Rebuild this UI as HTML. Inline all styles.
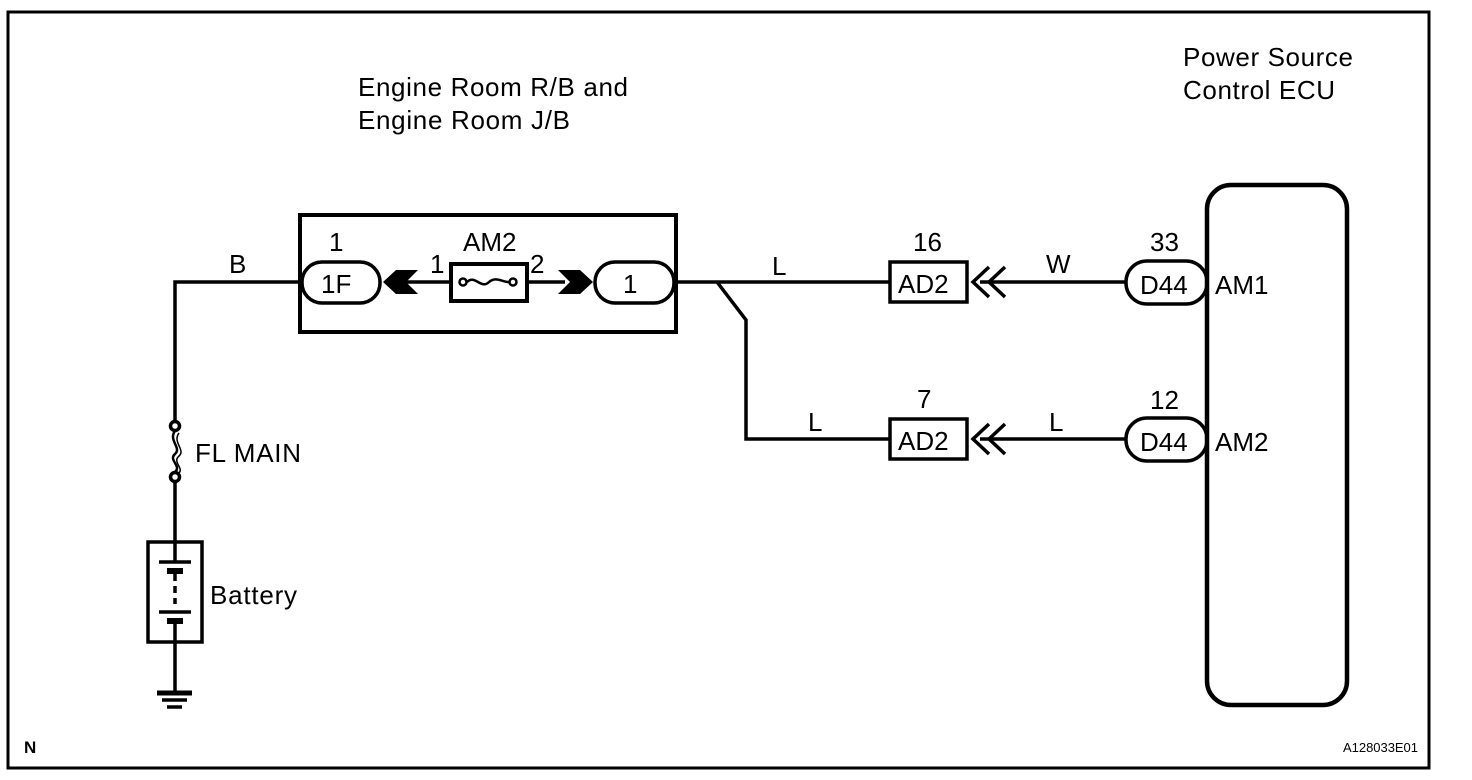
<!DOCTYPE html>
<html><head><style>
html,body{margin:0;padding:0;background:#fff;}
svg{display:block;}
text{font-family:"Liberation Sans",Arial,sans-serif;fill:#000;}
</style></head><body>
<svg width="1472" height="780" viewBox="0 0 1472 780" xmlns="http://www.w3.org/2000/svg">
<rect width="1472" height="780" fill="#fff"/>
<rect x="8" y="12" width="1421" height="756" fill="none" stroke="#000" stroke-width="3"/>
<g stroke="#000" fill="none" stroke-width="3.5">
<polyline points="302,282 175,282 175,425"/>
<circle cx="175" cy="426" r="4.5" fill="#fff"/>
<circle cx="175" cy="477" r="4.5" fill="#fff"/>
<path d="M175,431 C168,440 182,448 175,454 C168,460 182,466 175,472" stroke-width="2.5"/>
<path d="M179,433 C172,442 186,450 179,456 C172,462 184,468 179,473" stroke-width="1.5"/>
<line x1="175" y1="482" x2="175" y2="542"/>
<rect x="148" y="542" width="54" height="100"/>
<line x1="175" y1="542" x2="175" y2="562"/>
<line x1="159" y1="562" x2="191" y2="562"/>
<line x1="167" y1="571" x2="183" y2="571" stroke-width="6"/>
<line x1="175" y1="574" x2="175" y2="604" stroke-dasharray="7,5"/>
<line x1="159" y1="612" x2="191" y2="612"/>
<line x1="167" y1="621" x2="183" y2="621" stroke-width="6"/>
<line x1="175" y1="624" x2="175" y2="691"/>
<line x1="157" y1="693" x2="192" y2="693" stroke-width="5"/>
<line x1="162" y1="700" x2="187" y2="700"/>
<line x1="167" y1="707" x2="182" y2="707"/>
<rect x="300" y="215" width="376" height="117" stroke-width="4"/>
<rect x="302" y="262" width="78" height="41" rx="20"/>
<rect x="595" y="262" width="79" height="41" rx="20"/>
<line x1="395" y1="282" x2="452" y2="282"/>
<rect x="451" y="264" width="76" height="37" stroke-width="4"/>
<line x1="527" y1="282" x2="565" y2="282"/>
<circle cx="463" cy="282" r="3.5" fill="#fff" stroke-width="2.5"/>
<circle cx="513" cy="282" r="3.5" fill="#fff" stroke-width="2.5"/>
<path d="M467,282 C475,274 481,290 489,282 C496,276 502,282 509,282" stroke-width="2.5"/>
<line x1="674" y1="282" x2="890" y2="282"/>
<polyline points="717,282 746,320 746,439 890,439"/>
<rect x="890" y="262" width="77" height="40"/>
<rect x="890" y="419" width="77" height="40"/>
<line x1="980" y1="282" x2="1125" y2="282"/>
<line x1="980" y1="439" x2="1125" y2="439"/>
<polyline points="989,267 973,282 989,297"/>
<polyline points="1005,267 989,282 1005,297"/>
<polyline points="989,424 973,439 989,454"/>
<polyline points="1005,424 989,439 1005,454"/>
<rect x="1126" y="261" width="81" height="43" rx="21"/>
<rect x="1126" y="418" width="81" height="43" rx="21"/>
<rect x="1207" y="185" width="140" height="520" rx="24" stroke-width="4.5"/>
</g>
<polygon points="383,282 396,270 418,270 406,282 418,294 396,294" fill="#000"/>
<polygon points="558,270 580,270 593,282 580,294 558,294 570,282" fill="#000"/>
<g font-size="26">
<text x="1183" y="66" textLength="170">Power Source</text>
<text x="1183" y="99" textLength="152">Control ECU</text>
<text x="358" y="96" textLength="270">Engine Room R/B and</text>
<text x="358" y="129" textLength="212">Engine Room J/B</text>
<text x="229" y="273">B</text>
<text x="329" y="251">1</text>
<text x="321" y="293">1F</text>
<text x="463" y="251">AM2</text>
<text x="430" y="273">1</text>
<text x="530" y="273">2</text>
<text x="623" y="293">1</text>
<text x="772" y="275">L</text>
<text x="913" y="251">16</text>
<text x="898" y="293">AD2</text>
<text x="1046" y="273">W</text>
<text x="1150" y="251">33</text>
<text x="1140" y="294">D44</text>
<text x="1215" y="294">AM1</text>
<text x="808" y="431">L</text>
<text x="917" y="408">7</text>
<text x="898" y="450">AD2</text>
<text x="1049" y="431">L</text>
<text x="1150" y="409">12</text>
<text x="1140" y="451">D44</text>
<text x="1215" y="451">AM2</text>
<text x="195" y="462" textLength="106">FL MAIN</text>
<text x="210" y="604" textLength="87">Battery</text>
</g>
<text x="24" y="753" font-size="17" font-weight="bold">N</text>
<text x="1343" y="752" font-size="13" textLength="75">A128033E01</text>
</svg>
</body></html>
